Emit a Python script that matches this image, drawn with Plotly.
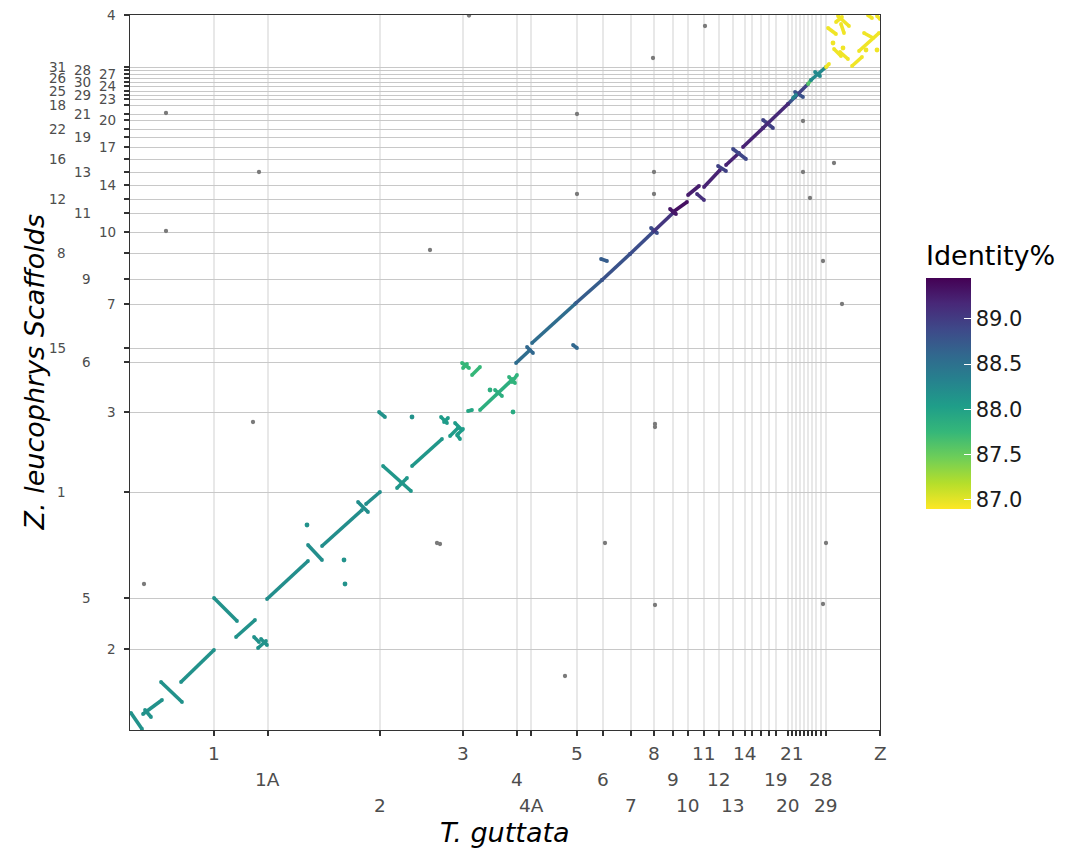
import numpy as np
import plotly.graph_objects as go
from plotly.colors import sample_colorscale
import plotly.express as px

# ---------------- chromosome / scaffold layout (Mb) ----------------
tg_chroms = ["1", "1A", "2", "3", "4", "4A", "5", "6", "7", "8", "9", "10", "11", "12",
             "13", "14", "15", "17", "18", "19", "20", "21", "22", "23", "24", "25",
             "26", "27", "28", "29", "Z"]
tg_lengths = [117.6, 75.2, 157.2, 116.6, 74.8, 20.0, 64.0, 36.8, 39.2, 32.2, 26.6, 21.0,
              22.4, 21.0, 19.6, 16.8, 9.8, 12.6, 11.2, 9.8, 16.8, 5.6, 5.6, 5.6, 5.6, 5.6,
              5.6, 5.6, 7.0, 7.0, 75.6]
tg_hidden_labels = ["15", "17", "18", "22", "23", "24", "25", "26", "27"]

zl_scaffolds = ["2", "5", "1", "3", "6", "15", "7", "9", "8", "10", "11", "12", "14", "13",
                "16", "17", "19", "22", "20", "21", "18", "23", "29", "25", "24", "30",
                "26", "27", "28", "31", "4"]
zl_lengths = [113.4, 71.4, 148.4, 112.0, 70.0, 19.6, 61.6, 35.0, 36.4, 29.4, 26.6, 19.6,
              19.6, 18.2, 18.2, 16.8, 14.0, 11.2, 12.6, 8.4, 12.6, 8.4, 5.6, 5.6, 7.0, 5.6,
              5.6, 5.6, 5.6, 4.2, 72.8]

# ---------------- alignment blocks (genome-wide Mb coordinates) ----------------
aln_t_start = [1.4, 18.2, 21.0, 43.4, 71.4, 117.6, 148.4, 173.6, 179.2, 183.4,
               191.8, 249.2, 268.8, 319.2, 330.4, 354.2, 373.8, 394.8, 435.4, 439.6,
               448.0, 455.0, 459.2, 457.8, 348.6, 473.2, 490.0, 511.0, 530.6, 534.8,
               464.8, 466.2, 478.8, 540.4, 555.8, 562.8, 620.2, 624.4, 659.4, 660.8,
               700.0, 729.4, 733.6, 760.2, 756.0, 781.2, 793.8, 803.6, 823.2, 834.4,
               844.2, 858.2, 886.2, 886.2, 921.2, 931.0, 928.2, 931.0, 949.2, 953.4,
               959.0,
               974.4, 991.2, 988.4, 977.2, 995.4, 985.6, 994.0, 1010.8, 1020.6, 1027.6,
               1033.2, 1045.8]
aln_t_end = [16.8, 44.8, 29.4, 72.8, 117.6, 149.8, 175.0, 180.6, 190.4, 191.8,
             249.2, 268.8, 324.8, 333.2, 350.0, 393.4, 387.8, 436.8, 443.8, 445.2,
             459.2, 464.8, 466.2, 462.0, 357.0, 478.8, 536.2, 520.8, 539.0, 541.8,
             474.6, 471.8, 490.0, 560.0, 564.2, 623.0, 625.8, 660.8, 667.8, 700.0,
             732.2, 737.8, 760.2, 779.8, 764.4, 796.6, 803.6, 826.0, 834.4, 852.6,
             862.4, 886.2, 900.2, 921.2, 931.0, 942.2, 932.4, 949.2, 953.4, 974.4,
             966.0,
             978.6, 1006.6, 996.8, 988.4, 999.6, 995.4, 1005.2, 1024.8, 1048.6, 1040.2,
             1038.8, 1050.0]
aln_z_start = [23.8, 22.4, 28.0, 67.2, 67.2, 184.8, 130.2, 130.2, 114.8, 127.4,
               183.4, 259.0, 257.6, 319.2, 316.4, 369.6, 338.8, 369.6, 438.2, 431.2,
               411.6, 429.8, 414.4, 413.0, 445.2, 446.6, 448.0, 476.0, 494.2, 487.2,
               513.8, 506.8, 497.0, 513.8, 536.2, 541.8, 539.0, 597.8, 659.4, 630.0,
               666.4, 702.8, 698.6, 725.2, 729.4, 749.0, 750.4, 760.2, 789.6, 791.0,
               813.4, 816.2, 854.0, 842.8, 876.4, 893.2, 884.8, 886.2, 904.4, 910.0,
               921.2,
               928.2, 999.6, 991.2, 982.8, 988.4, 953.4, 949.2, 929.6, 950.6, 975.8,
               1000.6, 999.6]
aln_z_end = [1.4, 42.0, 18.2, 39.2, 112.0, 152.6, 154.0, 123.2, 124.6, 119.0,
             236.6, 238.0, 308.0, 305.2, 333.2, 334.6, 352.8, 407.4, 429.8, 436.8,
             422.8, 420.0, 421.4, 407.4, 438.2, 448.0, 491.4, 467.6, 485.8, 497.0,
             506.8, 512.4, 508.2, 532.0, 527.8, 596.4, 534.8, 630.0, 656.6, 666.4,
             697.2, 695.8, 723.8, 739.2, 722.4, 761.6, 742.0, 784.0, 782.6, 807.8,
             799.4, 842.8, 842.8, 876.4, 886.2, 886.2, 889.0, 904.4, 910.0, 928.2,
             915.6,
             932.4, 985.6, 998.2, 974.4, 975.8, 943.6, 939.4, 942.2, 975.8, 968.8,
             996.8, 995.4]
aln_identity = [88.15, 88.15, 88.15, 88.15, 88.15, 88.15, 88.15, 88.15, 88.15, 88.15,
                88.2, 88.2, 88.2, 88.2, 88.2, 88.1, 88.1, 88.1, 88.05, 88.05,
                88.05, 88.05, 88.05, 88.05, 88.15, 87.95, 87.85, 87.85, 87.8, 87.8,
                87.75, 87.75, 87.75, 88.55, 88.6, 88.55, 88.6, 88.7, 88.7, 88.8,
                88.85, 88.85, 89.05, 89.35, 89.3, 89.25, 89.1, 89.2, 88.95, 89.2,
                88.9, 89.2, 88.95, 89.15, 88.8, 88.8, 88.3, 88.95, 87.6, 88.25,
                88.25,
                86.95, 86.95, 86.95, 86.95, 86.95, 86.95, 86.95, 86.95, 86.95, 86.95,
                86.95, 86.95]

# single short hits with identity
pt_t = [247.8, 299.6, 301.0, 394.8, 504.0, 536.2, 984.2, 998.2, 1030.4, 1045.8]
pt_z = [287.0, 238.0, 204.4, 438.2, 476.0, 445.2, 961.8, 954.8, 952.0, 952.0]
pt_identity = [88.15, 88.15, 88.15, 88.15, 87.85, 87.9, 86.95, 86.95, 86.95, 86.95]

# hits without identity estimate (grey)
na_t = [19.6, 50.4, 50.4, 172.2, 180.6, 420.0, 429.8, 434.0, 474.6, 609.0, 625.8, 625.8,
        665.0, 732.2, 733.6, 733.6, 735.0, 735.0, 735.0, 805.0, 942.2, 942.2, 952.0,
        970.2, 970.2, 974.4, 985.6, 996.8]
na_z = [204.4, 863.8, 698.6, 431.2, 781.2, 672.0, 261.8, 260.4, 1000.2, 75.6, 862.4, 750.4,
        261.8, 940.8, 781.2, 750.4, 428.4, 424.2, 175.0, 985.6, 852.6, 781.2, 744.8,
        656.6, 176.4, 261.8, 793.8, 596.4]

CMIN, CMAX = 86.9, 89.45
CSCALE = px.colors.sequential.Viridis_r
FONT = "DejaVu Sans"

x_ends = np.cumsum(tg_lengths)
y_ends = np.cumsum(zl_lengths)


def colour_of(v):
    return sample_colorscale(CSCALE, [(v - CMIN) / (CMAX - CMIN)])[0]


fig = go.Figure()

# alignment segments, grouped by identity value
groups = {}
for t0, t1, z0, z1, idv in zip(aln_t_start, aln_t_end, aln_z_start, aln_z_end, aln_identity):
    groups.setdefault(idv, ([], []))
    gx, gy = groups[idv]
    gx += [t0, t1, None]
    gy += [z0, z1, None]
for idv, (gx, gy) in groups.items():
    c = colour_of(idv)
    fig.add_trace(go.Scatter(x=gx, y=gy, mode="lines+markers",
                             line=dict(color=c, width=3.6),
                             marker=dict(color=c, size=3.8),
                             hoverinfo="skip", showlegend=False))

# grey hits
fig.add_trace(go.Scatter(x=na_t, y=na_z, mode="markers",
                         marker=dict(color="#7a7a7a", size=4.3),
                         hoverinfo="skip", showlegend=False))

# coloured point hits (carry the colour bar)
fig.add_trace(go.Scatter(
    x=pt_t, y=pt_z, mode="markers",
    marker=dict(color=pt_identity, colorscale=CSCALE, cmin=CMIN, cmax=CMAX, size=4.8,
                showscale=True,
                colorbar=dict(
                    title=dict(text="Identity%", side="top",
                               font=dict(family=FONT, size=27, color="#000000")),
                    x=1.0613, xanchor="left", y=0.4958, yanchor="middle",
                    len=0.3734, lenmode="fraction", thickness=45,
                    outlinewidth=0, xpad=0, ypad=0,
                    ticks="inside", ticklen=7, tickcolor="white", tickwidth=1.2,
                    tickvals=[87.0, 87.5, 88.0, 88.5, 89.0],
                    ticktext=["87.0", "87.5", "88.0", "88.5", "89.0"],
                    tickfont=dict(family=FONT, size=21, color="#1a1a1a"))),
    hoverinfo="skip", showlegend=False))

fig.update_xaxes(range=[0, x_ends[-1]], tickvals=list(x_ends), ticktext=[""] * len(x_ends),
                 showgrid=True, gridcolor="#e8e8e8", gridwidth=2.4, zeroline=False,
                 ticks="outside", ticklen=5, tickwidth=1.5, tickcolor="#333333",
                 showline=True, linecolor="#333333", linewidth=1.3, mirror=True)
fig.update_yaxes(range=[0, y_ends[-1]], tickvals=list(y_ends), ticktext=[""] * len(y_ends),
                 showgrid=True, gridcolor="#c8c8c8", gridwidth=1, zeroline=False,
                 ticks="outside", ticklen=5, tickwidth=1.5, tickcolor="#333333",
                 showline=True, linecolor="#333333", linewidth=1.3, mirror=True)

ann = []
for i, (name, end) in enumerate(zip(tg_chroms, x_ends)):
    if name in tg_hidden_labels:
        continue
    row = i % 3
    ann.append(dict(x=end, y=0, xref="x", yref="paper", text=name, showarrow=False,
                    xanchor="center", yanchor="middle", yshift=-(23 + 26 * row),
                    font=dict(family=FONT, size=18.5, color="#4d4d4d")))
for i, (name, end) in enumerate(zip(zl_scaffolds, y_ends)):
    col = i % 3
    ann.append(dict(x=0, y=end, xref="paper", yref="y", text=name, showarrow=False,
                    xanchor="right", yanchor="middle", xshift=-(12 + 25 * col),
                    font=dict(family=FONT, size=13.5, color="#4d4d4d")))
ann.append(dict(x=0.5, y=-0.1427, xref="paper", yref="paper", text="<i>T. guttata</i>",
                showarrow=False, xanchor="center", yanchor="middle",
                font=dict(family=FONT, size=27, color="#000000")))
ann.append(dict(x=-0.1267, y=0.5, xref="paper", yref="paper",
                text="<i>Z. leucophrys Scaffolds</i>", textangle=-90,
                showarrow=False, xanchor="center", yanchor="middle",
                font=dict(family=FONT, size=27, color="#000000")))

# page body adds an 8px margin, so the figure is 8px smaller and shifted up/left
fig.update_layout(width=1063, height=846,
                  margin=dict(l=122, r=191, t=7, b=124, autoexpand=False),
                  paper_bgcolor="white", plot_bgcolor="white",
                  annotations=ann, font=dict(family=FONT))

fig.write_html("out.html")
